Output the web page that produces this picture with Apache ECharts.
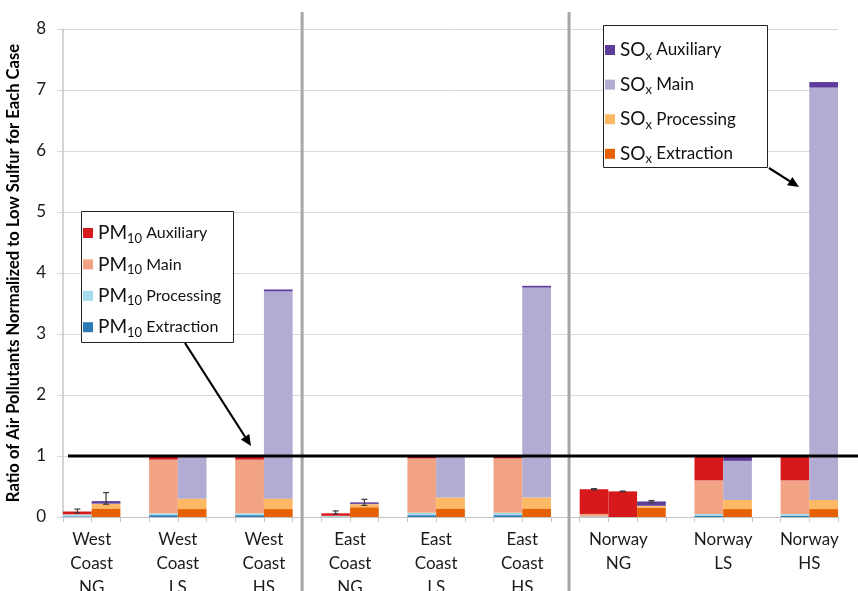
<!DOCTYPE html>
<html>
<head>
<meta charset="utf-8">
<script src="https://cdn.jsdelivr.net/npm/echarts@6/dist/echarts.min.js"></script>
<style>
  html, body { margin: 0; padding: 0; background: #fff; }
  #chart { width: 858px; height: 591px; }
</style>
</head>
<body>
<div id="chart"></div>
<script>
// Bar slots along the x axis (each case gets a PM10 bar and an SOx bar, with blank spacer slots)
const SLOT_COUNT = 27;

// PM10 stacked bars: slot index and component ratios
const pmSlots      = [0, 3, 6, 9, 12, 15, 18, 19, 22, 25];
const pmExtraction = [0.01, 0.03, 0.03, 0.005, 0.03, 0.03, 0.005, 0, 0.02, 0.02];
const pmProcessing = [0.03, 0.03, 0.03, 0.01, 0.04, 0.04, 0.005, 0, 0.03, 0.03];
const pmMain       = [0.005, 0.88, 0.88, 0.005, 0.89, 0.89, 0.04, 0, 0.55, 0.55];
const pmAuxiliary  = [0.045, 0.06, 0.06, 0.04, 0.04, 0.04, 0.405, 0.42, 0.40, 0.40];

// SOx stacked bars: slot index and component ratios
const soxSlots      = [1, 4, 7, 10, 13, 16, 20, 23, 26];
const soxExtraction = [0.14, 0.13, 0.13, 0.16, 0.14, 0.14, 0.15, 0.13, 0.13];
const soxProcessing = [0.075, 0.17, 0.17, 0.05, 0.18, 0.18, 0.03, 0.15, 0.15];
const soxMain       = [0.005, 0.68, 3.40, 0.005, 0.67, 3.44, 0.005, 0.64, 6.76];
const soxAuxiliary  = [0.04, 0.02, 0.03, 0.025, 0.01, 0.03, 0.07, 0.08, 0.09];

// Error bars: [slot, low, high]
const errorBars = [
  [0, 0.07, 0.13], [1, 0.21, 0.40],
  [9, 0.05, 0.10], [10, 0.19, 0.29],
  [18, 0.445, 0.465], [19, 0.415, 0.425], [20, 0.24, 0.27]
];

// Case labels and where they sit along the slot scale
const caseNames = [
  'West\nCoast\nNG', 'West\nCoast\nLS', 'West\nCoast\nHS',
  'East\nCoast\nNG', 'East\nCoast\nLS', 'East\nCoast\nHS',
  'Norway\nNG', 'Norway\nLS', 'Norway\nHS'
];
const casePositions = [1, 4, 7, 10, 13, 16, 19.35, 23, 26];

// Region dividers (slot scale) and the reference ratio line
const dividers = [8.33, 17.63];
const referenceRatio = 1;

const yMin = 0, yMax = 8, yStep = 1;

const colors = {
  pmAux: '#d7191c', pmMain: '#f2a383', pmProc: '#a6dbec', pmExt: '#2c7bb6',
  soxAux: '#5e3c99', soxMain: '#b2abd2', soxProc: '#fdb863', soxExt: '#e66101'
};

function spread(slots, values) {
  const out = new Array(SLOT_COUNT).fill('-');
  slots.forEach((s, i) => { out[s] = values[i]; });
  return out;
}

const slotNames = Array.from({ length: SLOT_COUNT }, (_, i) => 'slot' + i);
const FONT = 'Lato, "Open Sans", sans-serif';

function barSeries(name, stack, slots, values, color) {
  return {
    name, type: 'bar', stack,
    xAxisIndex: 0, yAxisIndex: 0,
    data: spread(slots, values),
    barWidth: '100%', barGap: '-100%',
    itemStyle: { color },
    emphasis: { disabled: true },
    z: 2
  };
}

// Rich text styles for legend entries: chemical name, subscript, component
function legendRich(mainSize, subSize, restSize) {
  return {
    b: { fontSize: mainSize, lineHeight: 22, fontFamily: FONT, color: '#111' },
    s: { fontSize: subSize, lineHeight: 11, padding: [11, 0, 0, 0], fontFamily: FONT, color: '#111' },
    t: { fontSize: restSize, lineHeight: 22, fontFamily: FONT, color: '#111' }
  };
}

const chart = echarts.init(document.getElementById('chart'), null, { renderer: 'canvas' });

const option = {
  animation: false,
  backgroundColor: '#fff',
  textStyle: { fontFamily: FONT },
  grid: { left: 63, right: 20, top: 29, bottom: 74, containLabel: false, outerBoundsMode: 'none' },
  xAxis: [
    {
      type: 'category', data: slotNames, boundaryGap: true,
      axisLine: { lineStyle: { color: '#c4c4c4', width: 1 } },
      axisTick: { show: true, interval: 0, length: 5, lineStyle: { color: '#c4c4c4' } },
      axisLabel: { show: false },
      splitLine: { show: false }
    },
    {
      type: 'value', min: 0, max: SLOT_COUNT, position: 'bottom',
      axisLine: { show: false }, axisTick: { show: false }, splitLine: { show: false },
      axisLabel: {
        show: true, customValues: casePositions, margin: 11,
        fontFamily: FONT, fontSize: 17, lineHeight: 24, color: '#1a1a1a',
        formatter: v => {
          const i = casePositions.findIndex(p => Math.abs(p - v) < 1e-6);
          return i >= 0 ? caseNames[i] : '';
        }
      }
    }
  ],
  yAxis: {
    type: 'value', min: yMin, max: yMax, interval: yStep,
    name: 'Ratio of Air Pollutants Normalized to Low Sulfur for Each Case',
    nameLocation: 'middle', nameGap: 41, nameRotate: 90,
    nameTextStyle: { fontFamily: FONT, fontSize: 16.6, fontWeight: 'bold', color: '#000' },
    axisLine: { show: true, lineStyle: { color: '#c4c4c4', width: 1.5 } },
    axisTick: { show: true, length: 6, lineStyle: { color: '#d4d4d4' } },
    axisLabel: { fontFamily: FONT, fontSize: 17, color: '#1a1a1a', margin: 17 },
    splitLine: { lineStyle: { color: '#d9d9d9', width: 1 } }
  },
  legend: [
    {
      data: ['PM10 Auxiliary', 'PM10 Main', 'PM10 Processing', 'PM10 Extraction'],
      orient: 'vertical', left: 83, top: 221, itemGap: 7.4,
      itemWidth: 10, itemHeight: 10, itemTextGap: 3, icon: 'rect',
      padding: 0, selectedMode: false, z: 10,
      formatter: name => {
        const rest = name.split(' ').slice(1).join(' ');
        return '{b|PM}{s|10}{t| ' + rest + '}';
      },
      textStyle: { fontFamily: FONT, color: '#111', rich: legendRich(19, 13, 16) }
    },
    {
      data: ['SOx Auxiliary', 'SOx Main', 'SOx Processing', 'SOx Extraction'],
      orient: 'vertical', left: 605, top: 38, itemGap: 10.6,
      itemWidth: 10, itemHeight: 10, itemTextGap: 5, icon: 'rect',
      padding: 0, selectedMode: false, z: 10,
      formatter: name => {
        const rest = name.split(' ').slice(1).join(' ');
        return '{b|SO}{s|x}{t| ' + rest + '}';
      },
      textStyle: { fontFamily: FONT, color: '#111', rich: legendRich(19, 13, 17) }
    }
  ],
  series: [
    barSeries('PM10 Extraction', 'pm', pmSlots, pmExtraction, colors.pmExt),
    barSeries('PM10 Processing', 'pm', pmSlots, pmProcessing, colors.pmProc),
    barSeries('PM10 Main', 'pm', pmSlots, pmMain, colors.pmMain),
    barSeries('PM10 Auxiliary', 'pm', pmSlots, pmAuxiliary, colors.pmAux),
    barSeries('SOx Extraction', 'sox', soxSlots, soxExtraction, colors.soxExt),
    barSeries('SOx Processing', 'sox', soxSlots, soxProcessing, colors.soxProc),
    barSeries('SOx Main', 'sox', soxSlots, soxMain, colors.soxMain),
    barSeries('SOx Auxiliary', 'sox', soxSlots, soxAuxiliary, colors.soxAux),
    {
      name: 'error', type: 'custom', xAxisIndex: 0, yAxisIndex: 0,
      data: errorBars, encode: { x: 0, y: [1, 2] }, z: 5,
      renderItem: (params, api) => {
        const lo = api.coord([api.value(0), api.value(1)]);
        const hi = api.coord([api.value(0), api.value(2)]);
        const x = lo[0], cap = 3;
        const st = { stroke: '#3a3a3a', lineWidth: 1.2 };
        return {
          type: 'group',
          children: [
            { type: 'line', shape: { x1: x, y1: lo[1], x2: x, y2: hi[1] }, style: st },
            { type: 'line', shape: { x1: x - cap, y1: lo[1], x2: x + cap, y2: lo[1] }, style: st },
            { type: 'line', shape: { x1: x - cap, y1: hi[1], x2: x + cap, y2: hi[1] }, style: st }
          ]
        };
      }
    }
  ]
};

chart.setOption(option);

// Annotation overlay: reference line, region dividers, legend frames, arrows
function arrow(x1, y1, x2, y2) {
  const ang = Math.atan2(y2 - y1, x2 - x1);
  const len = 11, half = 5;
  const bx = x2 - len * Math.cos(ang), by = y2 - len * Math.sin(ang);
  const px = -Math.sin(ang) * half, py = Math.cos(ang) * half;
  return [
    { type: 'line', z: 20, shape: { x1, y1, x2: bx, y2: by }, style: { stroke: '#000', lineWidth: 2.2 } },
    { type: 'polygon', z: 20, shape: { points: [[x2, y2], [bx + px, by + py], [bx - px, by - py]] }, style: { fill: '#000' } }
  ];
}

const refY = chart.convertToPixel({ yAxisIndex: 0 }, referenceRatio);
const graphics = [];
dividers.forEach(d => {
  const x = chart.convertToPixel({ xAxisIndex: 1 }, d);
  graphics.push({ type: 'line', z: 6, shape: { x1: x, y1: 12, x2: x, y2: 591 }, style: { stroke: '#a6a6a6', lineWidth: 3 } });
});
graphics.push({ type: 'line', z: 7, shape: { x1: 68, y1: refY, x2: 858, y2: refY }, style: { stroke: '#000', lineWidth: 3 } });
graphics.push({ type: 'rect', z: 8, shape: { x: 81.5, y: 211.5, width: 152, height: 131 }, style: { fill: '#fff', stroke: '#222', lineWidth: 1 } });
graphics.push({ type: 'rect', z: 8, shape: { x: 603.5, y: 25.5, width: 164, height: 142 }, style: { fill: '#fff', stroke: '#222', lineWidth: 1 } });
graphics.push(...arrow(185, 343, 251, 446));
graphics.push(...arrow(769, 168, 799, 187));
chart.setOption({ graphic: graphics });
</script>
</body>
</html>
